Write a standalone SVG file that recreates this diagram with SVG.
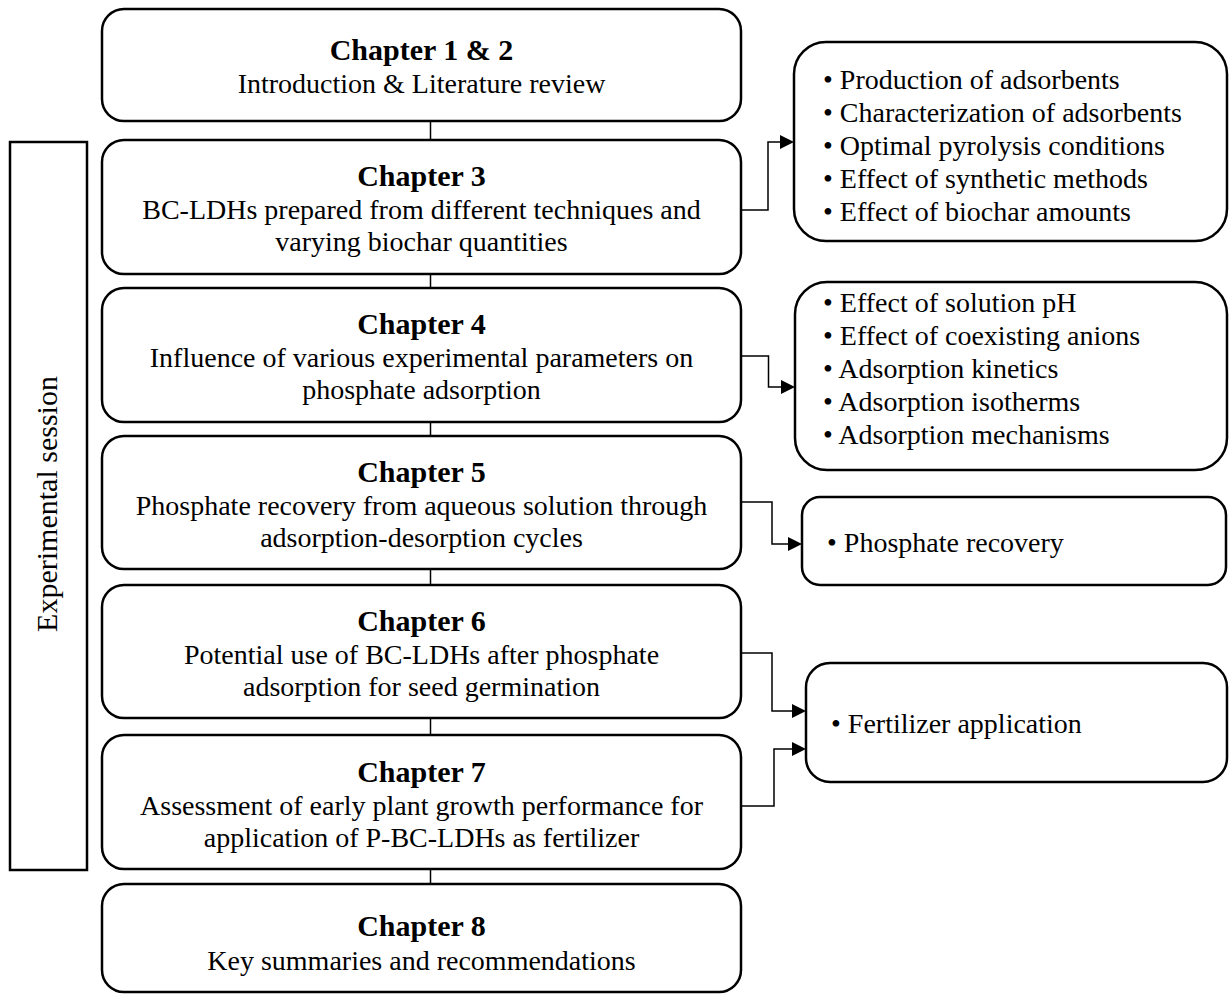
<svg xmlns="http://www.w3.org/2000/svg" width="1229" height="994" viewBox="0 0 1229 994">
<style>
.box{fill:#fff;stroke:#000;stroke-width:2.5}
.t{font-family:"Liberation Serif","Times New Roman",serif;font-weight:bold;font-size:30px;text-anchor:middle;fill:#000}
.s{font-family:"Liberation Serif","Times New Roman",serif;font-size:28px;text-anchor:middle;fill:#000}
.b{font-family:"Liberation Serif","Times New Roman",serif;font-size:28px;fill:#000}
.c{fill:none;stroke:#000;stroke-width:1.5}
</style>
<rect width="1229" height="994" fill="#fff"/>
<g id="connectors">
<line class="c" x1="430.5" y1="121" x2="430.5" y2="140"/>
<line class="c" x1="430.5" y1="274" x2="430.5" y2="288"/>
<line class="c" x1="430.5" y1="422" x2="430.5" y2="436"/>
<line class="c" x1="430.5" y1="569" x2="430.5" y2="585"/>
<line class="c" x1="430.5" y1="718" x2="430.5" y2="735"/>
<line class="c" x1="430.5" y1="869" x2="430.5" y2="884"/>
<polyline class="c" points="741,210 768,210 768,142 782,142"/>
<path d="M780,135 L794,142 L780,149 Z"/>
<polyline class="c" points="741,356 768.5,356 768.5,387 783,387"/>
<path d="M781,380 L795,387 L781,394 Z"/>
<polyline class="c" points="741,502 772,502 772,544 790,544"/>
<path d="M788,537 L802,544 L788,551 Z"/>
<polyline class="c" points="741,653 772,653 772,711 794,711"/>
<path d="M792,704 L806,711 L792,718 Z"/>
<polyline class="c" points="741,806 774,806 774,749 794,749"/>
<path d="M792,742 L806,749 L792,756 Z"/>
</g>
<g id="experimental">
<rect x="10" y="142" width="77" height="728" fill="none" stroke="#000" stroke-width="2.5"/>
<text class="s" transform="translate(57,504) rotate(-90)" style="font-size:30px">Experimental session</text>
</g>
<g id="ch12">
<rect class="box" x="102" y="9" width="639" height="112" rx="22"/>
<text class="t" x="421.5" y="60">Chapter 1 &amp; 2</text>
<text class="s" x="421.5" y="93">Introduction &amp; Literature review</text>
</g>
<g id="ch3">
<rect class="box" x="102" y="140" width="639" height="134" rx="22"/>
<text class="t" x="421.5" y="186">Chapter 3</text>
<text class="s" x="421.5" y="219">BC-LDHs prepared from different techniques and</text>
<text class="s" x="421.5" y="251">varying biochar quantities</text>
</g>
<g id="ch4">
<rect class="box" x="102" y="288" width="639" height="134" rx="22"/>
<text class="t" x="421.5" y="334">Chapter 4</text>
<text class="s" x="421.5" y="367">Influence of various experimental parameters on</text>
<text class="s" x="421.5" y="399">phosphate adsorption</text>
</g>
<g id="ch5">
<rect class="box" x="102" y="436" width="639" height="133" rx="22"/>
<text class="t" x="421.5" y="482">Chapter 5</text>
<text class="s" x="421.5" y="515">Phosphate recovery from aqueous solution through</text>
<text class="s" x="421.5" y="547">adsorption-desorption cycles</text>
</g>
<g id="ch6">
<rect class="box" x="102" y="585" width="639" height="133" rx="22"/>
<text class="t" x="421.5" y="631">Chapter 6</text>
<text class="s" x="421.5" y="664">Potential use of BC-LDHs after phosphate</text>
<text class="s" x="421.5" y="696">adsorption for seed germination</text>
</g>
<g id="ch7">
<rect class="box" x="102" y="735" width="639" height="134" rx="22"/>
<text class="t" x="421.5" y="782">Chapter 7</text>
<text class="s" x="421.5" y="815">Assessment of early plant growth performance for</text>
<text class="s" x="421.5" y="847">application of P-BC-LDHs as fertilizer</text>
</g>
<g id="ch8">
<rect class="box" x="102" y="884" width="639" height="108" rx="22"/>
<text class="t" x="421.5" y="936">Chapter 8</text>
<text class="s" x="421.5" y="970">Key summaries and recommendations</text>
</g>
<g id="r1">
<rect class="box" x="794" y="42" width="433" height="199" rx="32"/>
<text class="b" x="823" y="89">• Production of adsorbents</text>
<text class="b" x="823" y="122">• Characterization of adsorbents</text>
<text class="b" x="823" y="155">• Optimal pyrolysis conditions</text>
<text class="b" x="823" y="188">• Effect of synthetic methods</text>
<text class="b" x="823" y="221">• Effect of biochar amounts</text>
</g>
<g id="r2">
<rect class="box" x="795" y="282" width="432" height="188" rx="32"/>
<text class="b" x="823" y="312">• Effect of solution pH</text>
<text class="b" x="823" y="345">• Effect of coexisting anions</text>
<text class="b" x="823" y="378">• Adsorption kinetics</text>
<text class="b" x="823" y="411">• Adsorption isotherms</text>
<text class="b" x="823" y="444">• Adsorption mechanisms</text>
</g>
<g id="r3">
<rect class="box" x="802" y="497" width="424" height="88" rx="18"/>
<text class="b" x="827" y="552">• Phosphate recovery</text>
</g>
<g id="r4">
<rect class="box" x="806" y="663" width="421" height="119" rx="24"/>
<text class="b" x="831" y="733">• Fertilizer application</text>
</g>
</svg>
